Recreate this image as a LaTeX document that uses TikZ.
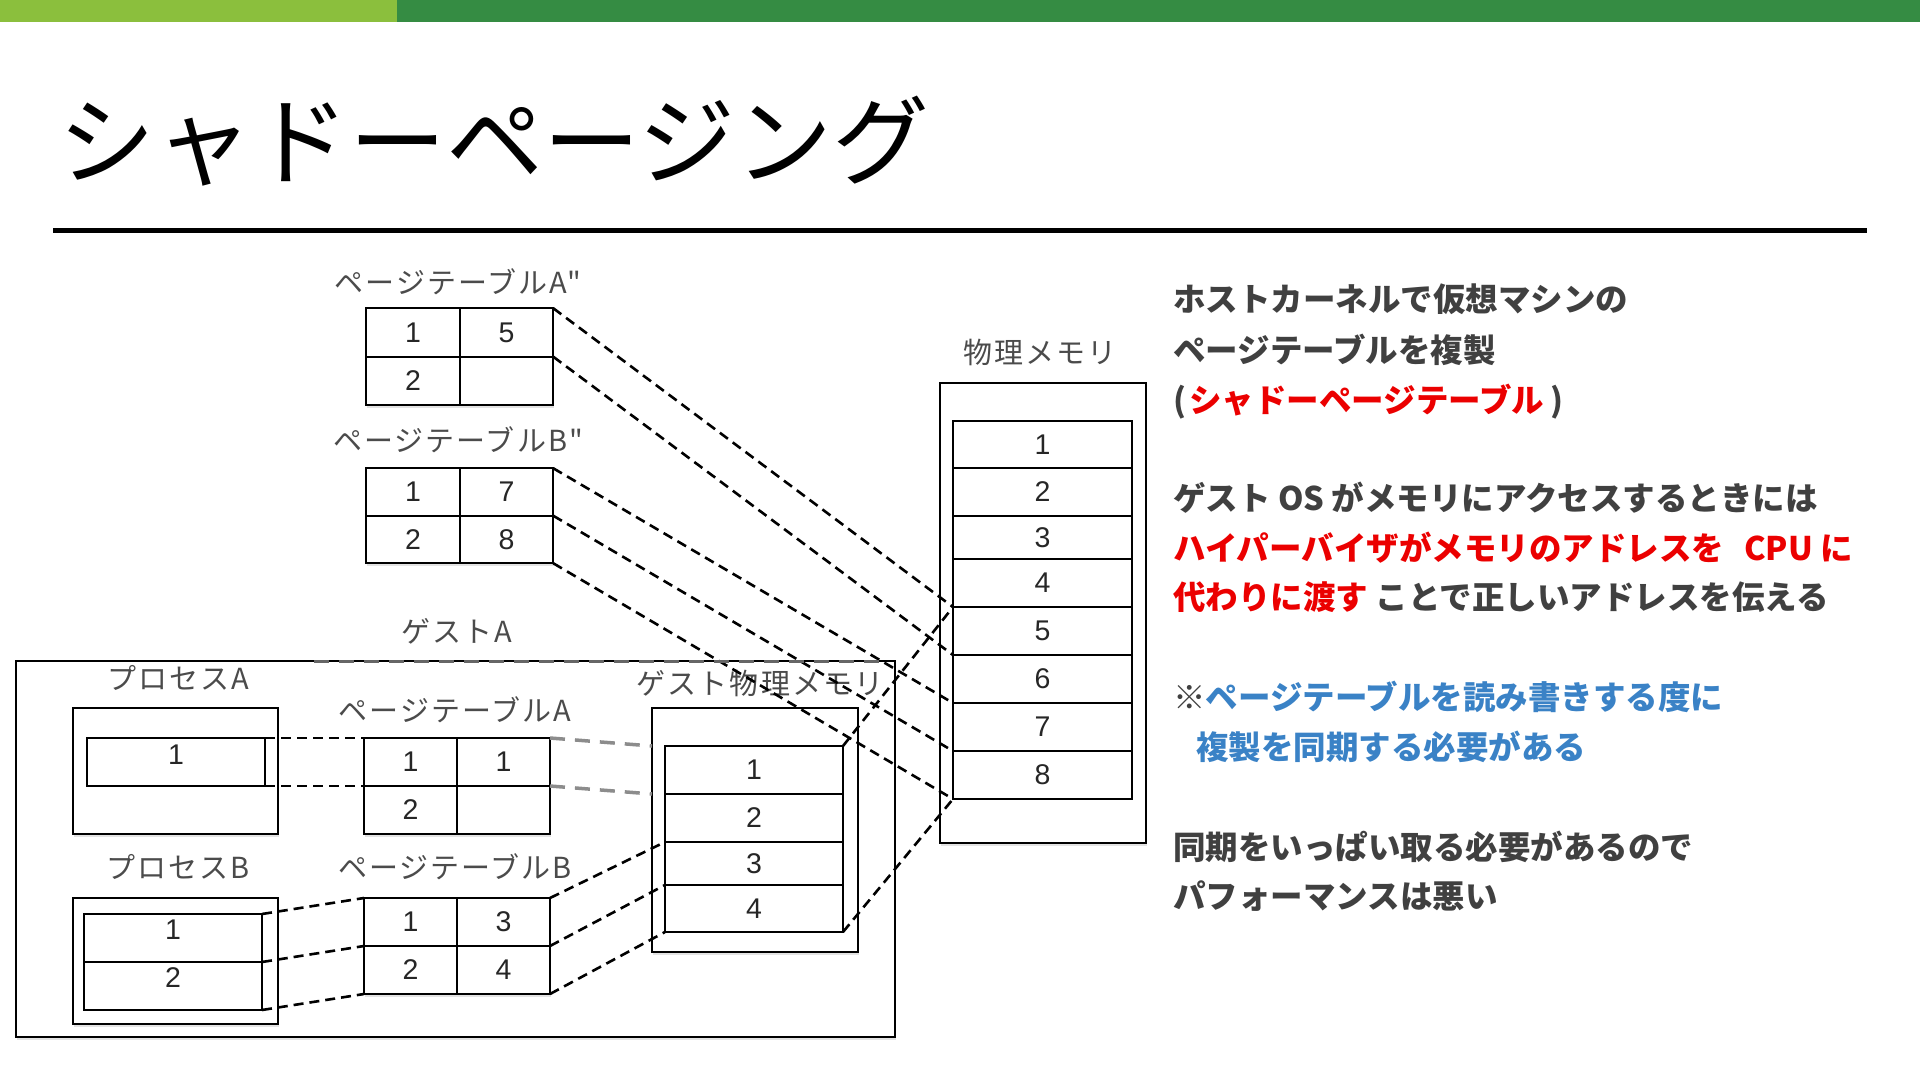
\documentclass[tikz,border=0pt]{standalone}
\usepackage{fontspec}
\setmainfont{Noto Sans CJK JP}
\newfontfamily\jp{Noto Sans CJK JP}
\newfontfamily\jpl[LetterSpace=7]{Noto Sans CJK JP}
\newfontfamily\numf{Liberation Sans}
\usetikzlibrary{shadows,calc}
\definecolor{lgreen}{RGB}{139,191,61}
\definecolor{dgreen}{RGB}{53,140,67}
\definecolor{txt}{RGB}{64,64,64}
\definecolor{hred}{RGB}{235,0,0}
\definecolor{hblue}{RGB}{58,130,198}
\definecolor{lbl}{RGB}{75,75,75}
\begin{document}
\begin{tikzpicture}[x=1pt,y=-1pt,
  box/.style={draw, line width=2.4pt, fill=white, inner sep=0pt, outer sep=0pt},
  shad/.style={drop shadow={opacity=0.22, shadow xshift=1pt, shadow yshift=-3pt}},
  cell/.style={box, font=\numf\fontsize{28.5}{28.5}\selectfont, text=black!85},
  lab/.style={anchor=base, font=\jpl\fontsize{29}{29}\selectfont, text=lbl, inner sep=0pt},
  body/.style={anchor=base west, font=\jp\bfseries\fontsize{32.5}{32.5}\selectfont, text=txt, inner sep=0pt},
  link/.style={line width=2.6pt, dash pattern=on 10pt off 6pt},
  glink/.style={line width=3.5pt, draw=black!45, dash pattern=on 15pt off 10pt},
]
\useasboundingbox (0,0) rectangle (1920,1081);
% header
\fill[lgreen] (0,0) rectangle (397,22);
\fill[dgreen] (397,0) rectangle (1920,22);
\node[anchor=base west, inner sep=0pt, font=\jp\fontsize{97}{97}\selectfont] (title) at (58,177) {シャドーページング};
\fill (53,228) rectangle (1867,233);

% guest box
\node[box, shad, minimum width=879pt, minimum height=376pt] (gbox) at (455.5,849) {};
\node[lab] (gAl) at (457,642) {ゲストA};

% shadow page tables
\node[lab] (tAsl) at (458,293) {ページテーブルA"};
\node[cell, shad, minimum width=93.5pt, minimum height=48.5pt] (tAs11) at (413,332.5) {1};
\node[cell, shad, minimum width=93.5pt, minimum height=48.5pt] (tAs12) at (506.5,332.5) {5};
\node[cell, shad, minimum width=93.5pt, minimum height=48.5pt] (tAs21) at (413,381) {2};
\node[cell, shad, minimum width=93.5pt, minimum height=48.5pt] (tAs22) at (506.5,381) {};

\node[lab] (tBsl) at (458,451) {ページテーブルB"};
\node[cell, shad, minimum width=93.5pt, minimum height=47.5pt] (tBs11) at (413,492) {1};
\node[cell, shad, minimum width=93.5pt, minimum height=47.5pt] (tBs12) at (506.5,492) {7};
\node[cell, shad, minimum width=93.5pt, minimum height=47.5pt] (tBs21) at (413,539.5) {2};
\node[cell, shad, minimum width=93.5pt, minimum height=47.5pt] (tBs22) at (506.5,539.5) {8};

% physical memory
\node[lab] (pml) at (1040,363) {物理メモリ};
\node[box, shad, minimum width=206pt, minimum height=460pt] (pmo) at (1043,613) {};
\node[cell, minimum width=179pt, minimum height=47pt] (pm1) at (1042.5,444.5) {1};
\node[cell, minimum width=179pt, minimum height=48pt] (pm2) at (1042.5,492) {2};
\node[cell, minimum width=179pt, minimum height=43pt] (pm3) at (1042.5,537.5) {3};
\node[cell, minimum width=179pt, minimum height=48pt] (pm4) at (1042.5,583) {4};
\node[cell, minimum width=179pt, minimum height=48pt] (pm5) at (1042.5,631) {5};
\node[cell, minimum width=179pt, minimum height=48pt] (pm6) at (1042.5,679) {6};
\node[cell, minimum width=179pt, minimum height=48pt] (pm7) at (1042.5,727) {7};
\node[cell, minimum width=179pt, minimum height=48pt] (pm8) at (1042.5,775) {8};

% process A
\node[lab] (pAl) at (178,689) {プロセスA};
\node[box, shad, minimum width=205pt, minimum height=126pt] (pA) at (175.5,771) {};
\node[cell, minimum width=178pt, minimum height=48pt] (pAc) at (176,762) {\raisebox{14pt}{1}};

% page table A
\node[lab] (tAl) at (455,721) {ページテーブルA};
\node[cell, shad, minimum width=93pt, minimum height=48pt] (tA11) at (410.5,762) {1};
\node[cell, shad, minimum width=93pt, minimum height=48pt] (tA12) at (503.5,762) {1};
\node[cell, shad, minimum width=93pt, minimum height=48pt] (tA21) at (410.5,810) {2};
\node[cell, shad, minimum width=93pt, minimum height=48pt] (tA22) at (503.5,810) {};

% process B
\node[lab] (pBl) at (178,878) {プロセスB};
\node[box, shad, minimum width=205pt, minimum height=126pt] (pB) at (175.5,961) {};
\node[cell, minimum width=178pt, minimum height=48pt] (pB1) at (173,938) {\raisebox{16pt}{1}};
\node[cell, minimum width=178pt, minimum height=48pt] (pB2) at (173,986) {\raisebox{16pt}{2}};

% page table B
\node[lab] (tBl) at (455,878) {ページテーブルB};
\node[cell, shad, minimum width=93pt, minimum height=48pt] (tB11) at (410.5,922) {1};
\node[cell, shad, minimum width=93pt, minimum height=48pt] (tB12) at (503.5,922) {3};
\node[cell, shad, minimum width=93pt, minimum height=48pt] (tB21) at (410.5,970) {2};
\node[cell, shad, minimum width=93pt, minimum height=48pt] (tB22) at (503.5,970) {4};

% guest physical memory
\node[lab] (gpl) at (760,694) {ゲスト物理メモリ};
\node[box, shad, minimum width=206pt, minimum height=244pt] (gpo) at (755,830) {};
\node[cell, minimum width=178pt, minimum height=48pt] (gp1) at (754,770) {1};
\node[cell, minimum width=178pt, minimum height=48pt] (gp2) at (754,818) {2};
\node[cell, minimum width=178pt, minimum height=43pt] (gp3) at (754,863.5) {3};
\node[cell, minimum width=178pt, minimum height=47pt] (gp4) at (754,908.5) {4};

% connectors
\draw[glink] (tA12.north east) -- (gpo.west |- gp1.north west);
\draw[glink] (tA22.north east) -- (gpo.west |- gp1.south west);
\draw[link] (pAc.north east) -- (tA11.north west);
\draw[link] (pAc.south east) -- (tA21.north west);
\draw[link] (pB1.north east) -- (tB11.north west);
\draw[link] (pB2.north east) -- (tB21.north west);
\draw[link] (pB2.south east) -- (tB21.south west);
\draw[link] (tB12.north east) -- (gp3.north west);
\draw[link] (tB22.north east) -- (gp4.north west);
\draw[link] (tB22.south east) -- (gp4.south west);
\draw[link] (tAs12.north east) -- (pm5.north west);
\draw[link] (tAs22.north east) -- (pm5.south west);
\draw[link] (tBs12.north east) -- (pm7.north west);
\draw[link] (tBs22.north east) -- (pm8.north west);
\draw[link] (tBs22.south east) -- (pm8.south west);
\draw[link] (gp1.north east) -- (pm5.north west);
\draw[link] (gp4.south east) -- (pm8.south west);
\draw[glink, draw=black!60, line width=3pt] ($(gbox.north west)+(298,0)$) -- ($(gbox.north east)+(-15,0)$);

% explanation text
\node[body] (t1) at (1173,311) {ホストカーネルで仮想マシンの};
\node[body] (t2) at (1173,362) {ページテーブルを複製};
\node[body] (t3) at (1173,412) {(\hspace{3pt}\textcolor{hred}{シャドーページテーブル}\hspace{6pt})};
\node[body] (t5) at (1173,510) {ゲスト OS がメモリにアクセスするときには};
\node[body, text=hred] (t6) at (1173,560) {ハイパーバイザがメモリのアドレスを\hspace{20pt}CPU に};
\node[body] (t7) at (1173,609) {\textcolor{hred}{代わりに渡す} ことで正しいアドレスを伝える};
\node[body] (t9) at (1173,709) {※\textcolor{hblue}{ページテーブルを読み書きする度に}};
\node[body, text=hblue] (t10) at (1173,759) {\hspace*{23pt}複製を同期する必要がある};
\node[body] (t12) at (1173,859) {同期をいっぱい取る必要があるので};
\node[body] (t13) at (1173,908) {パフォーマンスは悪い};
\end{tikzpicture}
\end{document}
